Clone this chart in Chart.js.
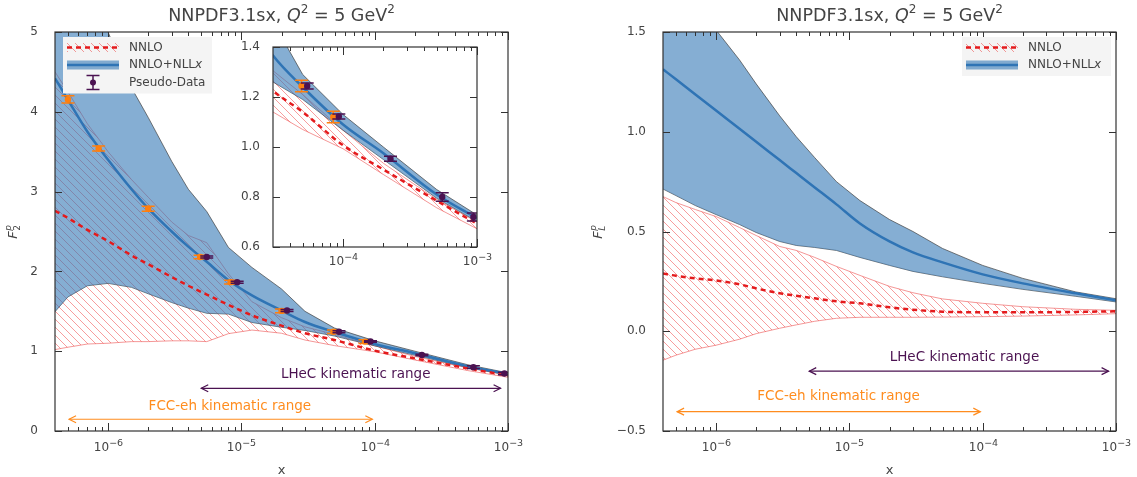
<!DOCTYPE html>
<html>
<head>
<meta charset="utf-8">
<script src="https://cdn.jsdelivr.net/npm/chart.js@4.4.1/dist/chart.umd.min.js"></script>
<style>
body { margin: 0; background: #fff; width: 1137px; height: 477px; overflow: hidden; position: relative; }
canvas { position: absolute; }
</style>
</head>
<body>
<canvas id="f2Chart" width="570" height="477" style="left:0;top:0"></canvas>
<canvas id="f2Inset" width="280" height="245" style="left:230px;top:30px"></canvas>
<canvas id="flChart" width="567" height="477" style="left:570px;top:0"></canvas>
<script>
// x grid shared by all theory curves
const xGrid = [4e-7, 5e-7, 7e-7, 1e-6, 1.5e-6, 2e-6, 3e-6, 4e-6, 5.5e-6, 8e-6, 1.2e-5, 2e-5, 3e-5, 5e-5, 1e-4, 2e-4, 5e-4, 1e-3];

// F2 NNLO+NLLx
const f2ResumCentral = [4.42, 4.15, 3.75, 3.40, 3.03, 2.79, 2.50, 2.31, 2.12, 1.89, 1.70, 1.51, 1.366, 1.24, 1.09, 0.975, 0.81, 0.715];
const f2ResumUpper = [6.6, 6.2, 5.6, 5.0, 4.30, 3.93, 3.38, 3.03, 2.75, 2.30, 2.05, 1.78, 1.50, 1.29, 1.13, 1.0, 0.83, 0.728];
const f2ResumLower = [1.495, 1.68, 1.82, 1.85, 1.80, 1.72, 1.61, 1.54, 1.475, 1.465, 1.36, 1.30, 1.26, 1.19, 1.067, 0.95, 0.795, 0.702];
// F2 NNLO
const f2FoCentral = [2.76, 2.67, 2.52, 2.38, 2.20, 2.09, 1.93, 1.82, 1.71, 1.58, 1.45, 1.32, 1.225, 1.14, 1.007, 0.91, 0.785, 0.693];
const f2FoUpper = [4.50, 4.25, 3.85, 3.50, 3.15, 2.93, 2.62, 2.45, 2.36, 1.97, 1.62, 1.42, 1.305, 1.21, 1.067, 0.935, 0.79, 0.70];
const f2FoLower = [1.02, 1.05, 1.09, 1.10, 1.12, 1.12, 1.13, 1.13, 1.12, 1.22, 1.265, 1.225, 1.14, 1.07, 0.993, 0.89, 0.757, 0.673];

// FL NNLO+NLLx
const flResumCentral = [1.313, 1.263, 1.187, 1.106, 1.015, 0.95, 0.858, 0.793, 0.721, 0.636, 0.54, 0.45, 0.395, 0.345, 0.285, 0.24, 0.19, 0.155];
const flResumUpper = [2.0, 1.85, 1.66, 1.51, 1.36, 1.24, 1.08, 0.975, 0.87, 0.75, 0.655, 0.56, 0.50, 0.415, 0.33, 0.265, 0.197, 0.163];
const flResumLower = [0.713, 0.68, 0.63, 0.585, 0.535, 0.495, 0.45, 0.43, 0.42, 0.405, 0.37, 0.33, 0.30, 0.273, 0.24, 0.21, 0.175, 0.147];
// FL NNLO
const flFoCentral = [0.289, 0.278, 0.265, 0.255, 0.235, 0.215, 0.19, 0.178, 0.165, 0.15, 0.14, 0.12, 0.108, 0.098, 0.095, 0.095, 0.097, 0.10];
const flFoUpper = [0.675, 0.645, 0.61, 0.575, 0.52, 0.48, 0.425, 0.405, 0.37, 0.325, 0.28, 0.225, 0.193, 0.162, 0.14, 0.123, 0.11, 0.105];
const flFoLower = [-0.145, -0.12, -0.09, -0.07, -0.04, -0.012, 0.015, 0.032, 0.05, 0.065, 0.07, 0.07, 0.07, 0.071, 0.073, 0.076, 0.082, 0.088];

// pseudo-data
const fccX = [5.0e-7, 8.5e-7, 2.0e-6, 4.9e-6, 8.3e-6, 2.0e-5, 4.9e-5, 8.45e-5];
const fccF2 = [4.155, 3.54, 2.785, 2.18, 1.865, 1.505, 1.244, 1.12];
const fccErr = [0.046, 0.03, 0.03, 0.023, 0.023, 0.023, 0.023, 0.023];
const lhecX = [5.5e-6, 9.3e-6, 2.2e-5, 5.4e-5, 9.3e-5, 2.26e-4, 5.5e-4, 9.4e-4];
const lhecF2 = [2.18, 1.865, 1.51, 1.244, 1.122, 0.953, 0.80, 0.72];
const lhecErr = [0.012, 0.012, 0.012, 0.012, 0.01, 0.01, 0.017, 0.016];

// kinematic ranges
const lhecRange = [5e-6, 8.8e-4];
const fccRange = [5.1e-7, 9.6e-5];

const FONT = '"DejaVu Sans", sans-serif';
const INK = '#444';
const PURPLE = '#4b1251';
const ORANGE = '#ff7f0e';
const BLUE_FILL = 'rgba(52,120,182,0.6)';
const BLUE_LINE = '#2f74b5';
const RED = '#e41a1c';

function hatchPattern(ctx) {
  const c = document.createElement('canvas');
  c.width = 8; c.height = 8;
  const g = c.getContext('2d');
  g.strokeStyle = 'rgba(238,55,55,0.55)';
  g.lineWidth = 0.9;
  g.beginPath();
  g.moveTo(-1, -1); g.lineTo(9, 9);
  g.moveTo(-1, 7); g.lineTo(1, 9);
  g.moveTo(7, -1); g.lineTo(9, 1);
  g.stroke();
  return ctx.createPattern(c, 'repeat');
}

function pts(ys) {
  return xGrid.map((x, i) => ({x: x, y: ys[i]}));
}

function theorySets(ctx, c) {
  return [
    {data: pts(c.resumCentral), borderColor: BLUE_LINE, borderWidth: 2.5, cubicInterpolationMode: 'monotone', order: 1},
    {data: pts(c.foCentral), borderColor: RED, borderWidth: 2.5, borderDash: [5, 4], cubicInterpolationMode: 'monotone', order: 0},
    {data: pts(c.resumUpper), borderColor: 'rgba(60,60,60,0.85)', borderWidth: 0.8, fill: '+1', backgroundColor: BLUE_FILL, order: 3},
    {data: pts(c.resumLower), borderColor: 'rgba(60,60,60,0.85)', borderWidth: 0.8, order: 3},
    {data: pts(c.foUpper), borderColor: 'rgba(240,110,110,0.9)', borderWidth: 0.8, fill: '+1', backgroundColor: hatchPattern(ctx), order: 4},
    {data: pts(c.foLower), borderColor: 'rgba(240,110,110,0.9)', borderWidth: 0.8, order: 4}
  ].map(d => Object.assign({showLine: true, pointRadius: 0, tension: 0}, d));
}

function dataSets() {
  return [
    {data: fccX.map((x, i) => ({x: x, y: fccF2[i]})), errors: fccErr, barColor: ORANGE,
     pointRadius: 3.2, pointBackgroundColor: ORANGE, pointBorderWidth: 0, order: -1},
    {data: lhecX.map((x, i) => ({x: x, y: lhecF2[i]})), errors: lhecErr, barColor: PURPLE,
     pointRadius: 3.2, pointBackgroundColor: PURPLE, pointBorderWidth: 0, order: -2}
  ];
}

// error bars drawn just under each pseudo-data marker set
const errorBars = {
  id: 'errorBars',
  beforeDatasetDraw(chart, args) {
    const ds = chart.data.datasets[args.index];
    if (!ds.errors) return;
    const {ctx, chartArea: a, scales: {x, y}} = chart;
    ctx.save();
    ctx.beginPath(); ctx.rect(a.left, a.top, a.right - a.left, a.bottom - a.top); ctx.clip();
    ctx.strokeStyle = ds.barColor;
    ctx.lineWidth = 1.5;
    ds.data.forEach((p, i) => {
      const px = x.getPixelForValue(p.x);
      const lo = y.getPixelForValue(p.y - ds.errors[i]);
      const hi = y.getPixelForValue(p.y + ds.errors[i]);
      ctx.beginPath();
      ctx.moveTo(px, lo); ctx.lineTo(px, hi);
      ctx.moveTo(px - 6.5, lo); ctx.lineTo(px + 6.5, lo);
      ctx.moveTo(px - 6.5, hi); ctx.lineTo(px + 6.5, hi);
      ctx.stroke();
    });
    ctx.restore();
  }
};

function rich(ctx, segs, x, y, align) {
  let w = 0;
  segs.forEach(s => { ctx.font = s.f + ' ' + FONT; s.w = ctx.measureText(s.t).width; w += s.w; });
  let cx = align === 'center' ? x - w / 2 : x;
  segs.forEach(s => { ctx.font = s.f + ' ' + FONT; ctx.fillText(s.t, cx, y + (s.dy || 0)); cx += s.w; });
}

function line(ctx, x1, y1, x2, y2) {
  ctx.beginPath(); ctx.moveTo(x1, y1); ctx.lineTo(x2, y2); ctx.stroke();
}

function arrow(ctx, x1, x2, y) {
  line(ctx, x1, y, x2, y);
  ctx.beginPath();
  ctx.moveTo(x1 + 7, y - 3.5); ctx.lineTo(x1, y); ctx.lineTo(x1 + 7, y + 3.5);
  ctx.moveTo(x2 - 7, y - 3.5); ctx.lineTo(x2, y); ctx.lineTo(x2 - 7, y + 3.5);
  ctx.stroke();
}

function drawLegend(ctx, a, o) {
  const w = 149, h = o.rows.length * 17.5 + 4;
  const left = o.side === 'left' ? a.left + 8 : a.right - 5 - w;
  const top = a.top + 5;
  ctx.fillStyle = '#f4f4f4';
  ctx.fillRect(left, top, w, h);
  o.rows.forEach((r, i) => {
    const cy = top + 10.5 + i * 17.5;
    const p0 = left + 4, p1 = left + 56;
    if (r === 'nnlo') {
      ctx.fillStyle = o.hatch;
      ctx.fillRect(p0, cy - 4.5, p1 - p0, 9);
      ctx.strokeStyle = RED; ctx.lineWidth = 2.5; ctx.setLineDash([5, 4]);
      line(ctx, p0, cy, p1, cy);
      ctx.setLineDash([]);
    } else if (r === 'resum') {
      ctx.fillStyle = BLUE_FILL;
      ctx.fillRect(p0, cy - 4.5, p1 - p0, 9);
      ctx.strokeStyle = BLUE_LINE; ctx.lineWidth = 2.5;
      line(ctx, p0, cy, p1, cy);
    } else {
      const mx = (p0 + p1) / 2;
      ctx.strokeStyle = PURPLE; ctx.lineWidth = 1.5;
      line(ctx, mx, cy - 7, mx, cy + 7);
      line(ctx, mx - 6.5, cy - 7, mx + 6.5, cy - 7);
      line(ctx, mx - 6.5, cy + 7, mx + 6.5, cy + 7);
      ctx.fillStyle = PURPLE;
      ctx.beginPath(); ctx.arc(mx, cy, 3, 0, Math.PI * 2); ctx.fill();
    }
    ctx.fillStyle = INK;
    ctx.textBaseline = 'middle';
    const label = r === 'nnlo' ? [{t: 'NNLO', f: '12px'}]
      : r === 'resum' ? [{t: 'NNLO+NLL', f: '12px'}, {t: 'x', f: 'italic 12px'}]
      : [{t: 'Pseudo-Data', f: '12px'}];
    rich(ctx, label, left + 66, cy, 'left');
  });
}

// frame, inward ticks, log tick labels, titles, legend and range annotations
const decor = {
  id: 'decor',
  beforeDraw(chart, args, o) {
    if (!o.whiteArea) return;
    const {ctx, chartArea: a} = chart;
    ctx.save(); ctx.fillStyle = '#fff';
    ctx.fillRect(a.left, a.top, a.right - a.left, a.bottom - a.top);
    ctx.restore();
  },
  afterDraw(chart, args, o) {
    const {ctx, chartArea: a, scales: {x, y}} = chart;
    ctx.save();
    ctx.strokeStyle = '#333';
    ctx.lineWidth = 1;
    // log ticks on x
    for (let e = Math.floor(Math.log10(x.min)); e <= Math.ceil(Math.log10(x.max)); e++) {
      for (let m = 1; m < 10; m++) {
        const v = m * Math.pow(10, e);
        if (v <= x.min * 1.01 || v >= x.max * 1.001) {
          if (!(m === 1 && Math.abs(v - x.max) / x.max < 0.001)) continue;
        }
        const px = Math.round(x.getPixelForValue(v)) + 0.5;
        const len = m === 1 ? 8 : 4;
        line(ctx, px, a.bottom, px, a.bottom - len);
        line(ctx, px, a.top, px, a.top + len);
        if (m === 1) {
          ctx.fillStyle = INK;
          ctx.textBaseline = 'alphabetic';
          rich(ctx, [{t: '10', f: '12px'}, {t: '\u2212' + (-e), f: '9.5px', dy: -5}], px, a.bottom + o.labelGap, 'center');
        }
      }
    }
    // y ticks both sides
    y.ticks.forEach(t => {
      const py = Math.round(y.getPixelForValue(t.value)) + 0.5;
      line(ctx, a.left, py, a.left + 7, py);
      line(ctx, a.right, py, a.right - 7, py);
    });
    ctx.lineWidth = 1.2;
    ctx.strokeRect(a.left, a.top, a.right - a.left, a.bottom - a.top);

    ctx.fillStyle = INK;
    ctx.textBaseline = 'alphabetic';
    if (o.title) {
      rich(ctx, [{t: 'NNPDF3.1sx, ', f: '17.5px'}, {t: 'Q', f: 'italic 17.5px'}, {t: '2', f: '12px', dy: -8},
                 {t: ' = 5 GeV', f: '17.5px'}, {t: '2', f: '12px', dy: -8}], (a.left + a.right) / 2, 21, 'center');
      ctx.font = '13px ' + FONT;
      ctx.textAlign = 'center';
      ctx.fillText('x', (a.left + a.right) / 2, 474);
      ctx.textAlign = 'left';
    }
    if (o.yLabel) {
      ctx.save();
      ctx.translate(a.left - o.yLabel.gap, (a.top + a.bottom) / 2);
      ctx.rotate(-Math.PI / 2);
      ctx.font = 'italic 13px ' + FONT;
      const wF = ctx.measureText('F').width;
      const x0 = -(wF + 7) / 2;
      ctx.fillText('F', x0, 5);
      ctx.font = 'italic 9px ' + FONT;
      ctx.fillText('p', x0 + wF + 0.5, -1.5);
      ctx.font = o.yLabel.subStyle + ' 9px ' + FONT;
      ctx.fillText(o.yLabel.sub, x0 + wF + 0.5, 8);
      ctx.restore();
    }
    (o.notes || []).forEach(n => {
      ctx.strokeStyle = n.color;
      ctx.fillStyle = n.color;
      ctx.lineWidth = 1.2;
      arrow(ctx, x.getPixelForValue(n.range[0]), x.getPixelForValue(n.range[1]), y.getPixelForValue(n.arrowY));
      ctx.font = '13.5px ' + FONT;
      ctx.textAlign = 'center';
      ctx.textBaseline = 'middle';
      ctx.fillText(n.text, x.getPixelForValue(n.textX), y.getPixelForValue(n.textY));
      ctx.textAlign = 'left';
    });
    if (o.legend) {
      o.legend.hatch = hatchPattern(ctx);
      drawLegend(ctx, a, o.legend);
    }
    ctx.restore();
  }
};

function makeChart(id, cfg) {
  const ctx = document.getElementById(id).getContext('2d');
  return new Chart(ctx, {
    type: 'scatter',
    data: {datasets: theorySets(ctx, cfg.curves).concat(cfg.points ? dataSets() : [])},
    options: {
      responsive: false,
      animation: false,
      devicePixelRatio: 1,
      layout: {padding: cfg.padding},
      scales: {
        x: {type: 'logarithmic', min: cfg.xRange[0], max: cfg.xRange[1],
            grid: {display: false}, border: {display: false}, ticks: {display: false},
            afterFit: s => { s.height = cfg.xHeight; }},
        y: {type: 'linear', min: cfg.yRange[0], max: cfg.yRange[1],
            grid: {display: false}, border: {display: false},
            ticks: {stepSize: cfg.yStep, color: INK, padding: cfg.tickPad, font: {family: FONT, size: 12}, callback: cfg.fmt},
            afterFit: s => { s.width = cfg.yWidth; }}
      },
      plugins: {legend: {display: false}, tooltip: {enabled: false}, decor: cfg.decor}
    },
    plugins: [errorBars, decor]
  });
}

const f2Curves = {resumCentral: f2ResumCentral, resumUpper: f2ResumUpper, resumLower: f2ResumLower,
                  foCentral: f2FoCentral, foUpper: f2FoUpper, foLower: f2FoLower};
const flCurves = {resumCentral: flResumCentral, resumUpper: flResumUpper, resumLower: flResumLower,
                  foCentral: flFoCentral, foUpper: flFoUpper, foLower: flFoLower};

makeChart('f2Chart', {
  curves: f2Curves, points: true,
  padding: {top: 32, right: 62, bottom: 0, left: 0},
  xRange: [4e-7, 1e-3], yRange: [0, 5], yStep: 1, yWidth: 55, xHeight: 46, tickPad: 9,
  fmt: v => String(v),
  decor: {
    title: true, labelGap: 20,
    yLabel: {gap: 43, sub: '2', subStyle: ''},
    legend: {side: 'left', rows: ['nnlo', 'resum', 'data']},
    notes: [
      {range: lhecRange, arrowY: 0.535, textX: 7.2e-5, textY: 0.71, text: 'LHeC kinematic range', color: PURPLE},
      {range: fccRange, arrowY: 0.147, textX: 8.2e-6, textY: 0.31, text: 'FCC-eh kinematic range', color: '#ff8c1e'}
    ]
  }
});

makeChart('f2Inset', {
  curves: f2Curves, points: true,
  padding: {top: 17, right: 33, bottom: 0, left: 0},
  xRange: [3e-5, 1e-3], yRange: [0.6, 1.4], yStep: 0.2, yWidth: 43, xHeight: 28, tickPad: 5,
  fmt: v => v.toFixed(1),
  decor: {whiteArea: true, labelGap: 18}
});

makeChart('flChart', {
  curves: flCurves, points: false,
  padding: {top: 32, right: 21, bottom: 0, left: 0},
  xRange: [4e-7, 1e-3], yRange: [-0.5, 1.5], yStep: 0.5, yWidth: 93, xHeight: 46, tickPad: 9,
  fmt: v => (v < 0 ? '\u2212' : '') + Math.abs(v).toFixed(1),
  decor: {
    title: true, labelGap: 20,
    yLabel: {gap: 66, sub: 'L', subStyle: 'italic'},
    legend: {side: 'right', rows: ['nnlo', 'resum']},
    notes: [
      {range: lhecRange, arrowY: -0.2, textX: 7.3e-5, textY: -0.133, text: 'LHeC kinematic range', color: PURPLE},
      {range: fccRange, arrowY: -0.403, textX: 8.3e-6, textY: -0.325, text: 'FCC-eh kinematic range', color: '#ff8c1e'}
    ]
  }
});
</script>
</body>
</html>
